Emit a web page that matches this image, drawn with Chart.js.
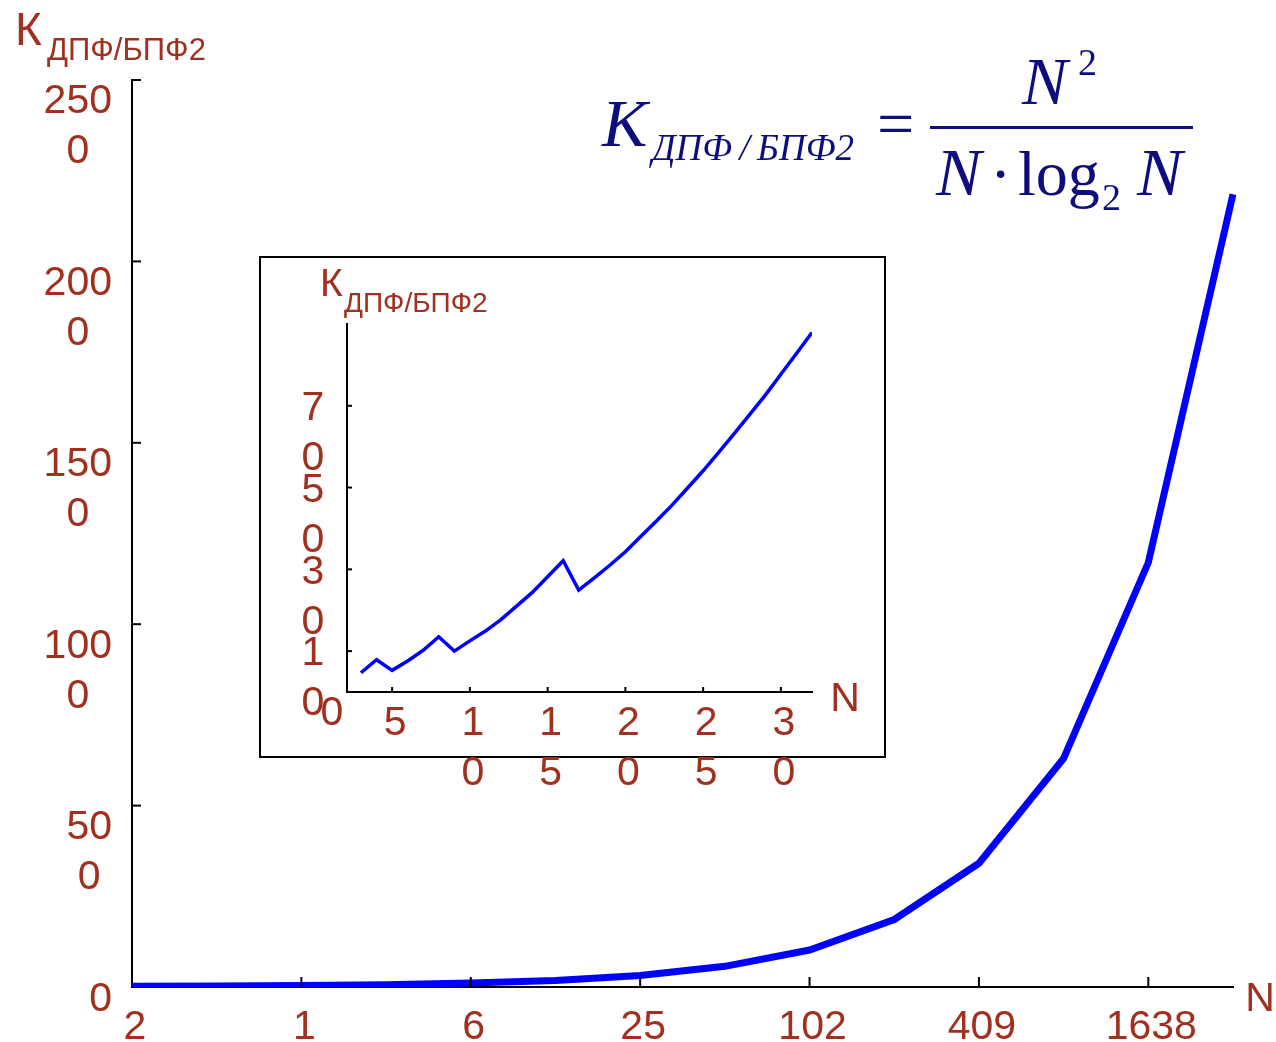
<!DOCTYPE html>
<html>
<head>
<meta charset="utf-8">
<script src="https://cdn.jsdelivr.net/npm/chart.js@4.4.0/dist/chart.umd.min.js"></script>
<style>
  body { margin: 0; background: #fff; }
  #wrap { position: relative; width: 1276px; height: 1042px; }
  #mainChart { position: absolute; left: 0; top: 0; }
  #insetChart { position: absolute; left: 259px; top: 256px; }
</style>
</head>
<body>
<div id="wrap">
  <canvas id="mainChart" width="1276" height="1042"></canvas>
  <canvas id="insetChart" width="627" height="560"></canvas>
</div>
<script>
// Основной график: N = 4 ... 32768
const mainCategories = ['4', '8', '16', '32', '64', '128', '256', '512', '1024', '2048', '4096', '8192', '16384', '32768'];
const mainValues = [2, 2.7, 4, 6.4, 11, 18, 32, 57, 102, 186, 341, 630, 1170, 2185];
const mainXTickLabels = ['2', '', '1', '', '6', '', '25', '', '102', '', '409', '', '1638', ''];
const mainYTicks = [0, 500, 1000, 1500, 2000, 2500];
const mainYTickLabels = [['0'], ['50', '0'], ['100', '0'], ['150', '0'], ['200', '0'], ['250', '0']];

// Вставка: N = 3 ... 32
const insetN = [3, 4, 5, 6, 7, 8, 9, 10, 11, 12, 13, 14, 15, 16, 17, 18, 19, 20, 21, 22, 23, 24, 25, 26, 27, 28, 29, 30, 31, 32];
const insetK = [4.7, 7.9, 5.3, 7.6, 10.2, 13.5, 10.0, 12.5, 14.9, 17.7, 21.0, 24.3, 28.2, 32.1, 24.9, 27.9, 31.0, 34.3, 38.1, 41.8, 45.7, 49.9, 54.1, 58.6, 63.2, 67.9, 72.6, 77.7, 82.8, 87.9];
const insetXTicks = [5, 10, 15, 20, 25, 30];
const insetXTickLabels = [['5'], ['1', '0'], ['1', '5'], ['2', '0'], ['2', '5'], ['3', '0']];
const insetYTicks = [10, 30, 50, 70];
const insetYTickLabels = [['1', '0'], ['3', '0'], ['5', '0'], ['7', '0']];

const RED = '#a0301f';
const NAVY = '#0d0d7d';
const SANS = '"Liberation Sans", Arial, sans-serif';
const SERIF = '"Liberation Serif", "Times New Roman", serif';

function tickLine(ctx, x1, y1, x2, y2) {
    ctx.beginPath();
    ctx.moveTo(x1, y1);
    ctx.lineTo(x2, y2);
    ctx.stroke();
}

// К с индексом ДПФ/БПФ2
function drawKTitle(ctx, x, y, bigSize, smallSize, subDx, subDy) {
    ctx.textAlign = 'left';
    ctx.textBaseline = 'alphabetic';
    ctx.fillStyle = RED;
    ctx.font = bigSize + 'px ' + SANS;
    ctx.fillText('К', x, y);
    ctx.font = smallSize + 'px ' + SANS;
    ctx.fillText('ДПФ/БПФ2', x + subDx, y + subDy);
}

function drawFormula(ctx) {
    ctx.save();
    ctx.fillStyle = NAVY;
    ctx.textAlign = 'left';
    ctx.textBaseline = 'alphabetic';
    ctx.font = 'italic 68px ' + SERIF;
    ctx.fillText('K', 602, 146);
    ctx.font = 'italic 37px ' + SERIF;
    ctx.fillText('ДПФ\u2009/\u2009БПФ2', 652, 160);
    ctx.font = '66px ' + SERIF;
    ctx.fillText('=', 877, 146);
    ctx.fillRect(930, 126, 263, 3);
    ctx.font = 'italic 68px ' + SERIF;
    ctx.fillText('N', 1022, 104);
    ctx.font = '38px ' + SERIF;
    ctx.fillText('2', 1078, 75);
    ctx.font = 'italic 68px ' + SERIF;
    ctx.fillText('N', 936, 195);
    ctx.font = '64px ' + SERIF;
    ctx.fillText('\u00B7', 990, 195);
    ctx.fillText('log', 1018, 195);
    ctx.font = '38px ' + SERIF;
    ctx.fillText('2', 1102, 210);
    ctx.font = 'italic 68px ' + SERIF;
    ctx.fillText('N', 1137, 195);
    ctx.restore();
}

const mainDecor = {
    id: 'mainDecor',
    afterDraw(chart) {
        const ctx = chart.ctx;
        const area = chart.chartArea;
        const xs = chart.scales.x, ys = chart.scales.y;
        ctx.save();
        ctx.strokeStyle = '#000';
        ctx.lineWidth = 2;
        ctx.font = '41px ' + SANS;
        ctx.fillStyle = RED;
        ctx.textAlign = 'center';
        ctx.textBaseline = 'middle';
        // ось Y: метки внутрь и подписи
        mainYTicks.forEach((v, i) => {
            const py = ys.getPixelForValue(v);
            if (v > 0) tickLine(ctx, area.left, py, area.left + 9, py);
            const lines = mainYTickLabels[i];
            const w = Math.max(...lines.map(t => ctx.measureText(t).width));
            const cx = area.left - 20 - w / 2;
            const y0 = py + (lines.length > 1 ? 22 : 13);
            lines.forEach((t, k) => ctx.fillText(t, cx, y0 + k * 50));
        });
        // ось X
        mainXTickLabels.forEach((t, i) => {
            if (!t) return;
            const px = xs.getPixelForValue(i);
            if (i > 0) tickLine(ctx, px, area.bottom, px, area.bottom - 10);
            ctx.fillText(t, px + 3, area.bottom + 41);
        });
        ctx.fillText('N', 1260, 1000);
        drawKTitle(ctx, 15, 45, 46, 31, 32, 15);
        ctx.restore();
        drawFormula(ctx);
    }
};

const insetDecor = {
    id: 'insetDecor',
    beforeDraw(chart) {
        const ctx = chart.ctx;
        ctx.save();
        ctx.fillStyle = '#fff';
        ctx.fillRect(0, 0, 627, 502);
        ctx.strokeStyle = '#000';
        ctx.lineWidth = 2;
        ctx.strokeRect(1, 1, 625, 500);
        ctx.restore();
    },
    afterDraw(chart) {
        const ctx = chart.ctx;
        const area = chart.chartArea;
        const xs = chart.scales.x, ys = chart.scales.y;
        ctx.save();
        ctx.strokeStyle = '#000';
        ctx.lineWidth = 2;
        ctx.font = '41px ' + SANS;
        ctx.fillStyle = RED;
        ctx.textAlign = 'center';
        ctx.textBaseline = 'middle';
        insetYTicks.forEach((v, i) => {
            const py = ys.getPixelForValue(v);
            tickLine(ctx, area.left, py, area.left + 5, py);
            insetYTickLabels[i].forEach((t, k) => ctx.fillText(t, area.left - 34, py + 3 + k * 50));
        });
        insetXTicks.forEach((v, i) => {
            const px = xs.getPixelForValue(v);
            tickLine(ctx, px, area.bottom, px, area.bottom - 5);
            insetXTickLabels[i].forEach((t, k) => ctx.fillText(t, px + 3, area.bottom + 32 + k * 50));
        });
        ctx.fillText('0', area.left - 15, area.bottom + 22);
        ctx.fillText('N', area.right + 33, area.bottom + 8);
        drawKTitle(ctx, 61, 40, 39, 28, 24, 16);
        ctx.restore();
    }
};

const axisBorder = { display: true, color: '#000', width: 2 };

new Chart(document.getElementById('mainChart'), {
    type: 'line',
    data: {
        labels: mainCategories,
        datasets: [{
            data: mainValues,
            borderColor: '#0000ff',
            borderWidth: 7,
            pointRadius: 0,
            tension: 0,
            fill: false
        }]
    },
    options: {
        responsive: false,
        animation: false,
        devicePixelRatio: 1,
        layout: { padding: { left: 132, right: 43, top: 80, bottom: 55 } },
        plugins: { legend: { display: false }, tooltip: { enabled: false } },
        scales: {
            x: {
                type: 'category',
                offset: false,
                grid: { display: false, drawTicks: false },
                border: axisBorder,
                ticks: { display: false }
            },
            y: {
                min: 0,
                max: 2500,
                grid: { display: false, drawTicks: false },
                border: axisBorder,
                ticks: { display: false }
            }
        }
    },
    plugins: [mainDecor]
});

new Chart(document.getElementById('insetChart'), {
    type: 'line',
    data: {
        datasets: [{
            data: insetN.map((n, i) => ({ x: n, y: insetK[i] })),
            borderColor: '#0000ff',
            borderWidth: 3.5,
            pointRadius: 0,
            tension: 0,
            fill: false
        }]
    },
    options: {
        responsive: false,
        animation: false,
        devicePixelRatio: 1,
        layout: { padding: { left: 88, right: 74, top: 68, bottom: 124 } },
        plugins: { legend: { display: false }, tooltip: { enabled: false } },
        scales: {
            x: {
                type: 'linear',
                min: 2.1,
                max: 32,
                grid: { display: false, drawTicks: false },
                border: axisBorder,
                ticks: { display: false }
            },
            y: {
                min: 0,
                max: 90,
                grid: { display: false, drawTicks: false },
                border: axisBorder,
                ticks: { display: false }
            }
        }
    },
    plugins: [insetDecor]
});
</script>
</body>
</html>
